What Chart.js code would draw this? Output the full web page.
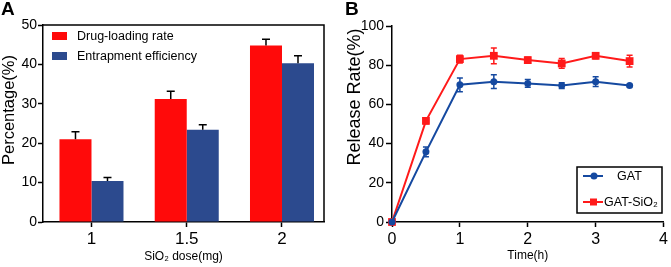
<!DOCTYPE html>
<html>
<head>
<meta charset="utf-8">
<script src="https://cdn.jsdelivr.net/npm/chart.js@4.4.0/dist/chart.umd.min.js"></script>
<style>
    body { margin: 0; background: #fff; width: 671px; height: 267px; overflow: hidden; position: relative; }
    canvas { position: absolute; top: 0; }
    #chartA { left: 0; }
    #chartB { left: 335px; }
</style>
</head>
<body>
<canvas id="chartA" width="335" height="267"></canvas>
<canvas id="chartB" width="336" height="267"></canvas>
<script>
// Panel A data
const doseLabels = ['1', '1.5', '2'];
const drugLoading = [21.0, 31.2, 44.8];
const drugLoadingErr = [1.9, 2.0, 1.6];
const entrapment = [10.4, 23.4, 40.3];
const entrapmentErr = [0.9, 1.3, 1.9];
const percentTicks = [0, 10, 20, 30, 40, 50];

// Panel B data
const timePoints = [0, 0.5, 1, 1.5, 2, 2.5, 3, 3.5];
const gatRelease = [0, 35.8, 70.0, 71.6, 70.7, 69.6, 71.6, 69.6];
const gatErr = [0, 2.5, 3.5, 3.5, 2.0, 1.5, 2.5, 0.6];
const gatSiRelease = [0, 51.6, 83.1, 84.8, 82.6, 80.9, 84.8, 82.1];
const gatSiErr = [0, 1.5, 2.0, 4.0, 1.5, 2.5, 1.5, 3.0];
const releaseTicks = [0, 20, 40, 60, 80, 100];
const timeTicks = [0, 1, 2, 3, 4];

const FONT = 'Arial, "Liberation Sans", sans-serif';
Chart.defaults.color = '#000';
Chart.defaults.font.family = FONT;

const RED = '#ff0a0a';
const BAR_BLUE = '#2c4a8e';
const LINE_BLUE = '#1549a0';
const LINE_RED = '#ff1a1a';

// Error bars from the dataset's errors array
const errorBars = {
    id: 'errorBars',
    afterDatasetsDraw(chart) {
        const ctx = chart.ctx;
        const yScale = chart.scales.y;
        chart.data.datasets.forEach((ds, i) => {
            if (!ds.errors) return;
            const meta = chart.getDatasetMeta(i);
            ctx.save();
            ctx.strokeStyle = ds.errorColor;
            ctx.lineWidth = 1.5;
            meta.data.forEach((el, j) => {
                const err = ds.errors[j];
                if (!err) return;
                const raw = ds.data[j];
                const v = typeof raw === 'object' ? raw.y : raw;
                const top = yScale.getPixelForValue(v + err);
                const bottom = ds.errorUpOnly ? el.y : yScale.getPixelForValue(v - err);
                const cap = ds.errorCap;
                ctx.beginPath();
                ctx.moveTo(el.x, top);
                ctx.lineTo(el.x, bottom);
                ctx.moveTo(el.x - cap, top);
                ctx.lineTo(el.x + cap, top);
                if (!ds.errorUpOnly) {
                    ctx.moveTo(el.x - cap, bottom);
                    ctx.lineTo(el.x + cap, bottom);
                }
                ctx.stroke();
            });
            ctx.restore();
        });
    }
};

// Panel letter, rotated y title, frame, legend
const decorations = {
    id: 'decorations',
    afterDraw(chart, args, opts) {
        const ctx = chart.ctx;
        ctx.save();
        ctx.fillStyle = '#000';
        ctx.font = 'bold 19px ' + FONT;
        ctx.textBaseline = 'top';
        ctx.fillText(opts.letter, opts.letterX, 0);

        ctx.save();
        ctx.translate(opts.yTitleX, opts.yTitleY);
        ctx.rotate(-Math.PI / 2);
        ctx.font = opts.yTitleSize + 'px ' + FONT;
        ctx.textAlign = 'center';
        ctx.textBaseline = 'middle';
        ctx.fillText(opts.yTitle, 0, 0);
        ctx.restore();

        const a = chart.chartArea;
        ctx.strokeStyle = '#000';
        ctx.lineWidth = 1.5;
        if (opts.frame) {
            ctx.beginPath();
            ctx.moveTo(a.left, a.top);
            ctx.lineTo(a.right, a.top);
            ctx.lineTo(a.right, a.bottom);
            ctx.stroke();
        }
        if (opts.legendBox) {
            const b = opts.legendBox;
            ctx.strokeRect(b.x, b.y, b.w, b.h);
        }

        ctx.font = opts.legendSize + 'px ' + FONT;
        ctx.textAlign = 'left';
        ctx.textBaseline = 'middle';
        opts.legendItems.forEach(item => {
            const ds = chart.data.datasets[item.dataset];
            if (item.kind === 'box') {
                ctx.fillStyle = ds.backgroundColor;
                ctx.fillRect(item.x, item.y - 4, 15, 8);
            } else {
                ctx.strokeStyle = ds.borderColor;
                ctx.lineWidth = 2;
                ctx.beginPath();
                ctx.moveTo(item.x, item.y);
                ctx.lineTo(item.x + 20, item.y);
                ctx.stroke();
                ctx.fillStyle = ds.borderColor;
                if (ds.pointStyle === 'rect') {
                    ctx.fillRect(item.x + 7, item.y - 3.5, 7, 7);
                } else {
                    ctx.beginPath();
                    ctx.arc(item.x + 11, item.y, 3.5, 0, Math.PI * 2);
                    ctx.fill();
                }
            }
            ctx.fillStyle = '#000';
            ctx.fillText(item.text, item.textX, item.y + 0.5);
        });
        ctx.restore();
    }
};

const axisGrid = {
    display: true,
    drawOnChartArea: false,
    drawTicks: true,
    tickLength: 5,
    tickColor: '#000',
    tickWidth: 1.5,
    color: '#000'
};

// Panel A: bar chart, categories placed by index on a linear axis
const toIndexed = (vals) => vals.map((v, i) => ({ x: i, y: v }));

new Chart(document.getElementById('chartA'), {
    type: 'bar',
    data: {
        datasets: [
            {
                label: 'Drug-loading rate',
                data: toIndexed(drugLoading),
                errors: drugLoadingErr,
                errorUpOnly: true,
                errorCap: 4,
                errorColor: '#000',
                backgroundColor: RED,
                borderWidth: 0,
                categoryPercentage: 0.672,
                barPercentage: 1.0
            },
            {
                label: 'Entrapment efficiency',
                data: toIndexed(entrapment),
                errors: entrapmentErr,
                errorUpOnly: true,
                errorCap: 4,
                errorColor: '#000',
                backgroundColor: BAR_BLUE,
                borderWidth: 0,
                categoryPercentage: 0.672,
                barPercentage: 1.0
            }
        ]
    },
    options: {
        responsive: false,
        animation: false,
        layout: { padding: { left: 0, top: 25, right: 11, bottom: 0 } },
        plugins: {
            legend: { display: false },
            tooltip: { enabled: false },
            decorations: {
                letter: 'A', letterX: 1,
                yTitle: 'Percentage(%)', yTitleX: 9, yTitleY: 110, yTitleSize: 16.5,
                frame: true,
                legendSize: 12.5,
                legendItems: [
                    { dataset: 0, kind: 'box', x: 52, y: 36, text: 'Drug-loading rate', textX: 77 },
                    { dataset: 1, kind: 'box', x: 52, y: 56, text: 'Entrapment efficiency', textX: 77 }
                ]
            }
        },
        scales: {
            x: {
                type: 'linear',
                min: -0.509,
                max: 2.441,
                offset: false,
                afterBuildTicks: (scale) => { scale.ticks = doseLabels.map((_, i) => ({ value: i })); },
                grid: { ...axisGrid, offset: false },
                border: { display: true, color: '#000', width: 1.5 },
                ticks: { font: { size: 17 }, padding: 2, callback: (v) => doseLabels[v] },
                title: { display: true, text: 'SiO₂ dose(mg)', font: { size: 12 }, padding: { top: 0, bottom: 3 } },
                afterFit: (scale) => { scale.height = 45; }
            },
            y: {
                min: 0,
                max: 50,
                afterBuildTicks: (scale) => { scale.ticks = percentTicks.map(v => ({ value: v })); },
                grid: axisGrid,
                border: { display: true, color: '#000', width: 1.5 },
                ticks: { font: { size: 14 }, padding: 1 },
                afterFit: (scale) => { scale.width = 43; }
            }
        }
    },
    plugins: [errorBars, decorations]
});

// Panel B: release curves
const toPoints = (vals) => timePoints.map((t, i) => ({ x: t, y: vals[i] }));

new Chart(document.getElementById('chartB'), {
    type: 'line',
    data: {
        datasets: [
            {
                label: 'GAT',
                data: toPoints(gatRelease),
                errors: gatErr,
                errorCap: 3,
                errorColor: LINE_BLUE,
                borderColor: LINE_BLUE,
                backgroundColor: LINE_BLUE,
                borderWidth: 2,
                pointStyle: 'circle',
                pointRadius: 3.5,
                pointBorderWidth: 0,
                clip: false,
                tension: 0
            },
            {
                label: 'GAT-SiO₂',
                data: toPoints(gatSiRelease),
                errors: gatSiErr,
                errorCap: 3,
                errorColor: LINE_RED,
                borderColor: LINE_RED,
                backgroundColor: LINE_RED,
                borderWidth: 2,
                pointStyle: 'rect',
                pointRadius: 5.5,
                pointBorderWidth: 0,
                clip: false,
                tension: 0
            }
        ]
    },
    options: {
        responsive: false,
        animation: false,
        layout: { padding: { left: 0, top: 26, right: 6, bottom: 0 } },
        plugins: {
            legend: { display: false },
            tooltip: { enabled: false },
            decorations: {
                letter: 'B', letterX: 10,
                yTitle: 'Release Rate(%)', yTitleX: 20, yTitleY: 97, yTitleSize: 18,
                frame: false,
                legendBox: { x: 242, y: 167, w: 85, h: 46 },
                legendSize: 12.5,
                legendItems: [
                    { dataset: 0, kind: 'line', x: 248, y: 176, text: 'GAT', textX: 282 },
                    { dataset: 1, kind: 'line', x: 248, y: 202, text: 'GAT-SiO₂', textX: 269 }
                ]
            }
        },
        scales: {
            x: {
                type: 'linear',
                min: 0,
                max: 4,
                afterBuildTicks: (scale) => { scale.ticks = timeTicks.map(v => ({ value: v })); },
                grid: axisGrid,
                border: { display: true, color: '#000', width: 1.5 },
                ticks: { font: { size: 16 }, padding: 3 },
                title: { display: true, text: 'Time(h)', font: { size: 12 }, padding: { top: 0, bottom: 4 } },
                afterFit: (scale) => { scale.height = 45; }
            },
            y: {
                min: 0,
                max: 100,
                afterBuildTicks: (scale) => { scale.ticks = releaseTicks.map(v => ({ value: v })); },
                grid: { ...axisGrid, tickLength: 6 },
                border: { display: true, color: '#000', width: 1.5 },
                ticks: { font: { size: 14 }, padding: 2 },
                afterFit: (scale) => { scale.width = 57; }
            }
        }
    },
    plugins: [errorBars, decorations]
});
</script>
</body>
</html>
